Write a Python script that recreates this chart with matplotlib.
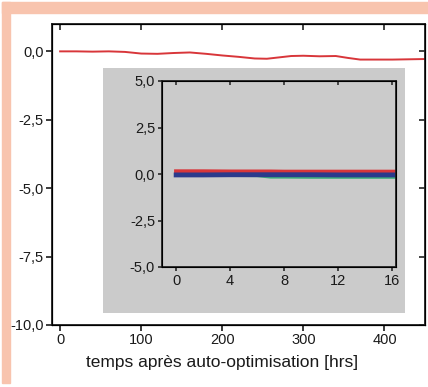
import matplotlib.pyplot as plt
from matplotlib.patches import Rectangle
from matplotlib.ticker import FuncFormatter

plt.rcParams['font.family'] = ['Liberation Sans', 'DejaVu Sans']

# main curve: drift vs time after auto-optimisation
t_main = [0, 20, 40, 60, 80, 100, 120, 140, 160, 180, 200, 220, 240, 255,
          270, 285, 300, 320, 340, 355, 370, 390, 410, 430, 450]
drift_main = [0.0, 0.0, -0.01, 0.0, -0.02, -0.08, -0.09, -0.06, -0.04, -0.09,
              -0.15, -0.2, -0.26, -0.27, -0.22, -0.17, -0.16, -0.18, -0.17,
              -0.24, -0.3, -0.3, -0.3, -0.29, -0.28]

# inset curves (first 16 hours)
t_inset = [0, 2, 4, 6, 7, 8, 10, 12, 14, 16.3]
red_inset = [0.14, 0.14, 0.13, 0.13, 0.13, 0.12, 0.12, 0.12, 0.12, 0.12]
blue_inset = [-0.05, -0.05, -0.04, -0.04, -0.04, -0.04, -0.04, -0.05, -0.05, -0.05]
green_inset = [-0.1, -0.1, -0.11, -0.12, -0.2, -0.2, -0.21, -0.21, -0.21, -0.21]

main_xticks = [0, 100, 200, 300, 400]
main_yticks = [0.0, -2.5, -5.0, -7.5, -10.0]
inset_xticks = [0, 4, 8, 12, 16]
inset_yticks = [5.0, 2.5, 0.0, -2.5, -5.0]

W, H = 428, 387
comma = FuncFormatter(lambda v, p: f'{v:.1f}'.replace('.', ','))
fs = 10.5


def box(l, t, r, b):
    return [l / W, 1 - b / H, (r - l) / W, (b - t) / H]


fig = plt.figure(figsize=(W / 100, H / 100), dpi=100)
fig.patches.append(Rectangle((2 / W, 374 / H), 1, 11 / H,
                             transform=fig.transFigure, color='#f8c4ae', zorder=0))
fig.patches.append(Rectangle((2 / W, 4 / H), 8 / W, 381 / H,
                             transform=fig.transFigure, color='#f8c4ae', zorder=0))

ax = fig.add_axes(box(52, 24, 425, 325))
ax.plot(t_main, drift_main, color='#d8363a', lw=1.4)
ax.set_xlim(-10, 450)
ax.set_ylim(-10, 1.0)
ax.set_xticks(main_xticks)
ax.set_yticks(main_yticks)
ax.yaxis.set_major_formatter(comma)
ax.tick_params(direction='out', length=4, width=1.2, labelsize=fs, colors='#1a1a1a', pad=2)
ax.set_xlabel('temps après auto-optimisation [hrs]', fontsize=12.5, color='#1a1a1a')
ax.xaxis.set_label_coords(0.456, -0.1)
for s in ax.spines.values():
    s.set_linewidth(1.3)
    s.set_color('#222222')

axt = ax.twiny()
axt.set_xlim(ax.get_xlim())
axt.set_xticks(main_xticks)
axt.tick_params(direction='in', length=4, width=1.2, labeltop=False, colors='#222222')
axr = ax.twinx()
axr.set_ylim(ax.get_ylim())
axr.set_yticks(main_yticks)
axr.tick_params(direction='in', length=4, width=1.2, labelright=False, colors='#222222')

bg = fig.add_axes(box(103, 68, 405, 313))
bg.set_facecolor('#cbcbcb')
bg.set_xticks([])
bg.set_yticks([])
for s in bg.spines.values():
    s.set_visible(False)

ins = fig.add_axes(box(162, 81, 396, 267))
ins.set_facecolor('#cbcbcb')
ins.plot(t_inset, green_inset, color='#3dae7c', lw=1.3)
ins.plot(t_inset, red_inset, color='#d8363a', lw=3)
ins.plot(t_inset, blue_inset, color='#2b3a8c', lw=3.5)
ins.set_xlim(-1.05, 16.3)
ins.set_ylim(-5, 5)
ins.set_xticks(inset_xticks)
ins.set_yticks(inset_yticks)
ins.yaxis.set_major_formatter(comma)
ins.tick_params(direction='out', length=3, width=1.1, labelsize=fs, colors='#1a1a1a', pad=2)
for s in ins.spines.values():
    s.set_linewidth(1.3)
    s.set_color('#222222')
inst = ins.twiny()
inst.set_xlim(ins.get_xlim())
inst.set_xticks(inset_xticks)
inst.tick_params(direction='in', length=3, width=1.1, labeltop=False, colors='#222222')

fig.savefig('out.png', dpi=100)
